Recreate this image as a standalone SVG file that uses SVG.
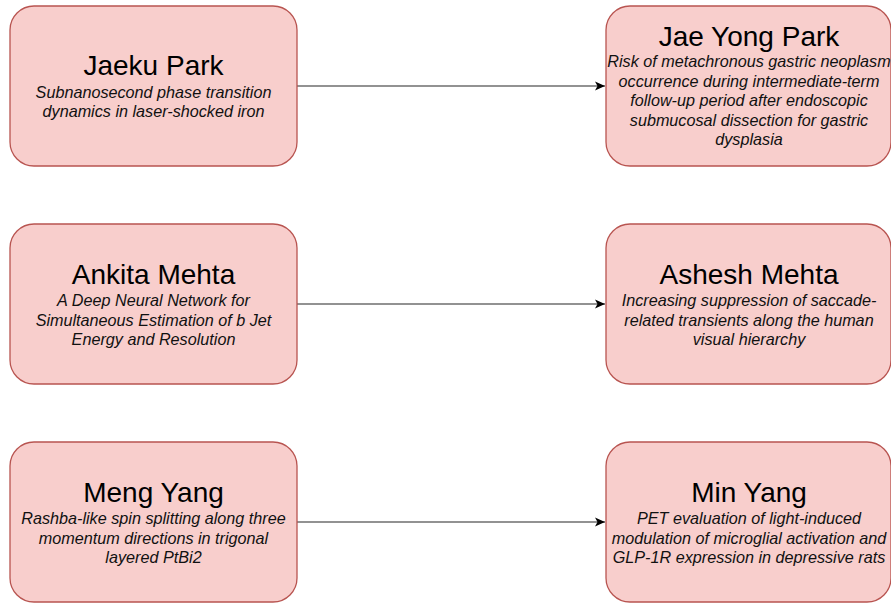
<svg xmlns="http://www.w3.org/2000/svg" width="891" height="603" viewBox="0 0 891 603">
<defs>
<style>
.box{fill:#f8cecc;stroke:#b85450;stroke-width:1.3}
.t{font-family:"Liberation Sans",Arial,sans-serif;font-size:28px;fill:#000;text-anchor:middle}
.s{font-family:"Liberation Sans",Arial,sans-serif;font-size:16.2px;font-style:italic;fill:#111;text-anchor:middle}
.edge{stroke:#6e6e6e;stroke-width:1.4;fill:none}
</style>
<marker id="ah" markerWidth="12" markerHeight="12" refX="10" refY="6" orient="auto" markerUnits="userSpaceOnUse">
<path d="M0,1.5 L10,6 L0,10.5 L2.5,6 Z" fill="#000"/>
</marker>
</defs>
<g id="connectors">
<line class="edge" x1="297" y1="86" x2="605" y2="86" marker-end="url(#ah)"/>
<line class="edge" x1="297" y1="304" x2="605" y2="304" marker-end="url(#ah)"/>
<line class="edge" x1="297" y1="522" x2="605" y2="522" marker-end="url(#ah)"/>
</g>
<g id="jaeku">
<rect class="box" x="10" y="6" width="287" height="160" rx="24"/>
<text class="t" x="153.5" y="75">Jaeku Park</text>
<text class="s" x="153.5" y="98">Subnanosecond phase transition</text>
<text class="s" x="153.5" y="117">dynamics in laser-shocked iron</text>
</g>
<g id="jaeyong">
<rect class="box" x="606" y="6" width="285" height="160" rx="24"/>
<text class="t" x="749" y="46">Jae Yong Park</text>
<text class="s" x="749" y="67">Risk of metachronous gastric neoplasm</text>
<text class="s" x="749" y="86.5">occurrence during intermediate-term</text>
<text class="s" x="749" y="106">follow-up period after endoscopic</text>
<text class="s" x="749" y="125.5">submucosal dissection for gastric</text>
<text class="s" x="749" y="145">dysplasia</text>
</g>
<g id="ankita">
<rect class="box" x="10" y="224" width="287" height="160" rx="24"/>
<text class="t" x="153.5" y="283.5">Ankita Mehta</text>
<text class="s" x="153.5" y="306">A Deep Neural Network for</text>
<text class="s" x="153.5" y="325.5">Simultaneous Estimation of b Jet</text>
<text class="s" x="153.5" y="345">Energy and Resolution</text>
</g>
<g id="ashesh">
<rect class="box" x="606" y="224" width="285" height="160" rx="24"/>
<text class="t" x="749" y="283.5">Ashesh Mehta</text>
<text class="s" x="749" y="306">Increasing suppression of saccade-</text>
<text class="s" x="749" y="325.5">related transients along the human</text>
<text class="s" x="749" y="345">visual hierarchy</text>
</g>
<g id="meng">
<rect class="box" x="10" y="442" width="287" height="160" rx="24"/>
<text class="t" x="153.5" y="501.5">Meng Yang</text>
<text class="s" x="153.5" y="524">Rashba-like spin splitting along three</text>
<text class="s" x="153.5" y="543.5">momentum directions in trigonal</text>
<text class="s" x="153.5" y="563">layered PtBi2</text>
</g>
<g id="min">
<rect class="box" x="606" y="442" width="285" height="160" rx="24"/>
<text class="t" x="749" y="501.5">Min Yang</text>
<text class="s" x="749" y="524">PET evaluation of light-induced</text>
<text class="s" x="749" y="543.5">modulation of microglial activation and</text>
<text class="s" x="749" y="563">GLP-1R expression in depressive rats</text>
</g>
</svg>
